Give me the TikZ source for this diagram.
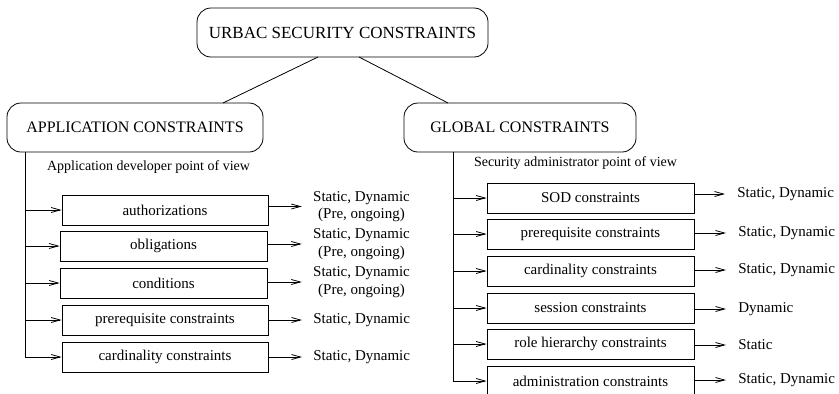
\documentclass[tikz,border=0pt]{standalone}
\usepackage{fontspec}
\setmainfont{Liberation Serif}
\usepackage{tikz}
\usetikzlibrary{arrows.meta}

\begin{document}
\begin{tikzpicture}[x=1pt,y=-1pt,line width=0.8pt,>={Straight Barb[length=9pt,width=5pt]}]

    \useasboundingbox (0,0) rectangle (839,394);

    \tikzstyle{head}=[draw,rounded corners=14pt,inner sep=0pt]
    \tikzstyle{item}=[draw,inner sep=0pt,font=\fontsize{15}{18}\selectfont]
    \tikzstyle{kind}=[inner sep=0pt,align=center,font=\fontsize{15}{17.5}\selectfont]

    % the three headings
    \node[head,minimum width=291pt,minimum height=49pt,font=\fontsize{17}{20}\selectfont](u) at (342.5,32.5){URBAC SECURITY CONSTRAINTS};
    \node[head,minimum width=256pt,minimum height=49pt,font=\fontsize{16}{19}\selectfont](app) at (135,127.5){APPLICATION CONSTRAINTS};
    \node[head,minimum width=232pt,minimum height=49pt,font=\fontsize{16}{19}\selectfont](glb) at (520,127.5){GLOBAL CONSTRAINTS};

    \coordinate (u1) at (318,57);
    \coordinate (u2) at (359,57);
    \coordinate (app1) at (223,103);
    \coordinate (glb1) at (448,103);
    \draw(u1)--(app1);
    \draw(u2)--(glb1);

    \node[font=\fontsize{14}{16}\selectfont](appv) at (148.5,167){Application developer point of view};
    \node[font=\fontsize{14}{16}\selectfont](glbv) at (575.5,163){Security administrator point of view};

    % application side
    \node[item,minimum width=206pt,minimum height=30pt](a1) at (165,210){authorizations};
    \node[item,minimum width=207pt,minimum height=30pt](a2) at (163.5,246){obligations};
    \node[item,minimum width=207pt,minimum height=30pt](a3) at (163.5,283){conditions};
    \node[item,minimum width=206pt,minimum height=30pt](a4) at (165,320){prerequisite constraints};
    \node[item,minimum width=206pt,minimum height=30pt](a5) at (165,357){cardinality constraints};

    \node[kind](k1) at (361.5,206.5){Static, Dynamic\\(Pre, ongoing)};
    \node[kind](k2) at (361.5,244){Static, Dynamic\\(Pre, ongoing)};
    \node[kind](k3) at (361.5,282){Static, Dynamic\\(Pre, ongoing)};
    \node[kind,anchor=west](k4) at (313,320){Static, Dynamic};
    \node[kind,anchor=west](k5) at (313,357){Static, Dynamic};

    \coordinate (l0) at (25,152);
    \draw(l0)--(l0 |- a5.west);
    \foreach \i in {1,...,5}{
      \draw[->](l0 |- a\i.west)--(a\i.west);
      \draw[->,shorten >=11pt](a\i.east |- k\i.west)--(k\i.west);
    }

    % global side
    \node[item,minimum width=207pt,minimum height=30pt](g1) at (590.5,198){SOD constraints};
    \node[item,minimum width=207pt,minimum height=30pt](g2) at (590.5,234){prerequisite constraints};
    \node[item,minimum width=207pt,minimum height=30pt](g3) at (590.5,271){cardinality constraints};
    \node[item,minimum width=207pt,minimum height=30pt](g4) at (590.5,308){session constraints};
    \node[item,minimum width=207pt,minimum height=30pt](g5) at (590.5,344){role hierarchy constraints};
    \node[item,minimum width=207pt,minimum height=30pt](g6) at (590.5,381){administration constraints};

    \node[kind,anchor=west](s1) at (737,194){Static, Dynamic};
    \node[kind,anchor=west](s2) at (738,233){Static, Dynamic};
    \node[kind,anchor=west](s3) at (738,270){Static, Dynamic};
    \node[kind,anchor=west](s4) at (738,309){Dynamic};
    \node[kind,anchor=west](s5) at (738,345){Static};
    \node[kind,anchor=west](s6) at (738,380){Static, Dynamic};

    \coordinate (r0) at (453,152);
    \draw(r0)--(r0 |- g6.west);
    \foreach \i in {1,...,6}{
      \draw[->](r0 |- g\i.west)--(g\i.west);
      \draw[->,shorten >=12pt](g\i.east |- s\i.west)--(s\i.west);
    }

\end{tikzpicture}
\end{document}
